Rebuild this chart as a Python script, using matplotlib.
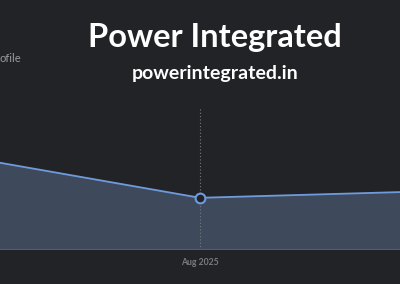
import matplotlib
matplotlib.use("Agg")
import matplotlib.pyplot as plt

# data
months = ["Jul 2025", "Aug 2025", "Sep 2025"]
values = [6.1, 3.65, 4.05]
highlight = "Aug 2025"

bg = "#222326"
line_col = "#6f9bdc"
fill_col = "#3e495c"

plt.rcParams['font.family'] = ['Lato', 'DejaVu Sans']

fig = plt.figure(figsize=(4, 2.84), dpi=100, facecolor=bg)
ax = fig.add_axes([0, 34 / 284, 1, 143 / 284])
ax.set_facecolor(bg)

x = list(range(len(months)))
ax.fill_between(x, values, 0, color=fill_col, lw=0)
ax.plot(x, values, color=line_col, lw=1.3)
hi = months.index(highlight)
ax.axvline(hi, color="#7a7b80", lw=0.8, ls=(0, (1, 2)), ymin=0, ymax=1)
ax.plot(hi, values[hi], "o", ms=7, mfc=bg, mec=line_col, mew=1.5, zorder=5)
ax.axhline(0, color="#5c5d62", lw=1.5)

ax.set_xlim(0, len(months) - 1)
ax.set_ylim(0, 10)
ax.set_xticks([hi])
ax.set_xticklabels([highlight], color="#7b7c80", fontsize=6.2, fontweight="bold")
ax.tick_params(axis="x", length=0, pad=6)
ax.set_yticks([])
for s in ax.spines.values():
    s.set_visible(False)

fig.text(215 / 400, 1 - 38 / 284, "Power Integrated", ha="center", va="center",
         color="white", fontsize=23.5, fontweight="bold")
fig.text(215 / 400, 1 - 74 / 284, "powerintegrated.in", ha="center", va="center",
         color="white", fontsize=14, fontweight="bold")
fig.text(0, 1 - 58 / 284, "ofile", ha="left", va="center", color="#9a9ba0", fontsize=8)

fig.savefig("out.png", dpi=100, facecolor=bg)
